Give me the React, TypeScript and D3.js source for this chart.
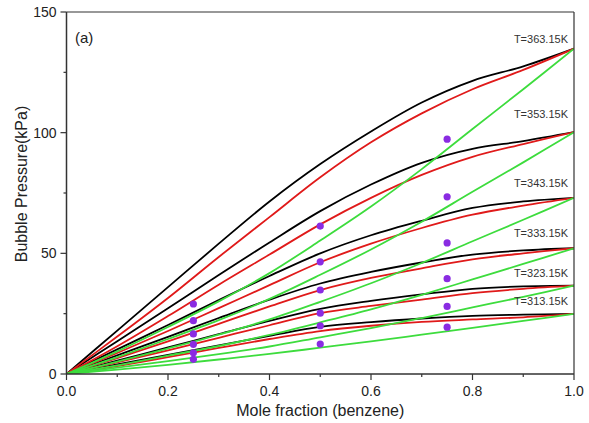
import React from "react";
import * as d3 from "d3";

const temps = ["363.15", "353.15", "343.15", "333.15", "323.15", "313.15"];
const psat = [134.8, 100.2, 73.0, 52.1, 36.6, 24.9];
const curveX = [0, 0.1, 0.2, 0.3, 0.4, 0.5, 0.6, 0.7, 0.8, 0.9, 1.0];

const black363 = [0, 18, 36, 54, 71.5, 87, 100.5, 112.5, 121.5, 127.5, 134.8];
const black353 = [0, 13.6, 27.2, 41, 54.5, 67.5, 78.5, 87.5, 93.3, 96.5, 100.2];
const black343 = [0, 10.2, 20.3, 30.6, 40.6, 50, 57.5, 63.5, 68.8, 71.5, 73.0];
const black333 = [0, 7.7, 15.4, 23.2, 30.8, 37.5, 42.3, 46.2, 49.5, 51.2, 52.1];
const black323 = [0, 5.5, 11, 16.5, 22, 27, 30.3, 33, 35.3, 36.3, 36.6];
const black313 = [0, 4, 7.9, 11.9, 15.8, 19.5, 21.5, 23, 24.1, 24.6, 24.9];

const red363 = [0, 15.5, 31.5, 48.5, 65, 81.5, 96, 108, 118, 126, 134.8];
const red353 = [0, 11.5, 24, 37, 49.5, 62, 73, 82.5, 90, 95.3, 100.2];
const red343 = [0, 8.7, 17.8, 27.3, 36.8, 46.3, 54, 60.5, 66, 69.8, 73.0];
const red333 = [0, 6.6, 13.5, 20.8, 28, 34.8, 39.8, 43.8, 47.5, 50, 52.1];
const red323 = [0, 4.8, 9.8, 15, 20.2, 25.2, 28.2, 30.8, 33.5, 35.3, 36.6];
const red313 = [0, 3.3, 7, 10.8, 14.5, 17.8, 20, 21.6, 22.6, 23.5, 24.9];

const green363 = [0, 9.4, 19.5, 30.1, 41.8, 55.3, 69.4, 84.9, 101.5, 118, 134.8];
const green353 = [0, 7.0, 14.5, 22.3, 31.1, 41.1, 51.6, 63.1, 75.5, 87.7, 100.2];
const green343 = [0, 5.1, 10.6, 16.3, 22.6, 29.9, 37.6, 46, 55, 63.9, 73.0];
const green333 = [0, 3.6, 7.6, 11.6, 16.2, 21.4, 26.8, 32.8, 39.2, 45.6, 52.1];
const green323 = [0, 2.6, 5.3, 8.2, 11.4, 15.2, 19, 23.2, 27.6, 32, 36.6];
const green313 = [0, 1.8, 3.8, 6, 8.3, 10.9, 13.5, 16.3, 19.1, 22, 24.9];

const blackSeries = [black363, black353, black343, black333, black323, black313];
const redSeries = [red363, red353, red343, red333, red323, red313];
const greenSeries = [green363, green353, green343, green333, green323, green313];

const expX = [0.25, 0.5, 0.75];
const exp363 = [29.0, 61.3, 97.3];
const exp353 = [22.1, 46.5, 73.4];
const exp343 = [16.6, 34.8, 54.3];
const exp333 = [12.3, 25.2, 39.5];
const exp323 = [8.8, 20.0, 28.0];
const exp313 = [6.1, 12.4, 19.4];
const expSeries = [exp363, exp353, exp343, exp333, exp323, exp313];

const xTicks = [0, 0.2, 0.4, 0.6, 0.8, 1.0];
const xMinor = [0.1, 0.3, 0.5, 0.7, 0.9];
const yTicks = [0, 50, 100, 150];
const yMinor = [25, 75, 125];

const labelOffsets = [6, 14, 11, 11, 9, 9];

export default function App() {
  const W = 589, H = 423;
  const x = d3.scaleLinear().domain([0, 1]).range([66.5, 574]);
  const y = d3.scaleLinear().domain([0, 150]).range([374, 12]);
  const line = d3
    .line<[number, number]>()
    .x((d) => x(d[0]))
    .y((d) => y(d[1]))
    .curve(d3.curveCatmullRom.alpha(0.5));
  const font = "'Liberation Sans', Arial, sans-serif";
  const axisColor = "#333";
  const pts = (s: number[]) => curveX.map((cx, j) => [cx, s[j]] as [number, number]);
  return (
    <div style={{ position: "absolute", left: 0, top: 0 }}>
      <svg width={W} height={H} style={{ display: "block", background: "#fff" }}>
        <defs>
          <clipPath id="plot">
            <rect x={x(0)} y={y(150)} width={x(1) - x(0)} height={y(0) - y(150)} />
          </clipPath>
        </defs>
        <g clipPath="url(#plot)">
          {blackSeries.map((s, i) => (
            <path key={"b" + i} d={line(pts(s))!} fill="none" stroke="#000" strokeWidth={1.8} />
          ))}
          {redSeries.map((s, i) => (
            <path key={"r" + i} d={line(pts(s))!} fill="none" stroke="#e01a1a" strokeWidth={1.8} />
          ))}
          {greenSeries.map((s, i) => (
            <path key={"g" + i} d={line(pts(s))!} fill="none" stroke="#3ddc3d" strokeWidth={1.8} />
          ))}
          {expSeries.map((s, i) =>
            s.map((v, j) => (
              <circle key={"e" + i + "-" + j} cx={x(expX[j])} cy={y(v)} r={3.6} fill="#8a2be2" />
            ))
          )}
        </g>
        <line x1={x(0)} x2={x(1)} y1={y(150)} y2={y(150)} stroke={axisColor} strokeWidth={1.2} />
        <line x1={x(1)} x2={x(1)} y1={y(150)} y2={y(0)} stroke={axisColor} strokeWidth={1.2} />
        <line x1={x(0)} x2={x(1)} y1={y(0)} y2={y(0)} stroke={axisColor} strokeWidth={1.5} />
        <line x1={x(0)} x2={x(0)} y1={y(150)} y2={y(0)} stroke={axisColor} strokeWidth={1.5} />
        {xTicks.map((t) => (
          <g key={"xt" + t}>
            <line x1={x(t)} x2={x(t)} y1={y(0)} y2={y(0) + 6} stroke={axisColor} strokeWidth={1.2} />
            <text x={x(t)} y={y(0) + 22} textAnchor="middle" fontFamily={font} fontSize={14} fill="#222">
              {t.toFixed(1)}
            </text>
          </g>
        ))}
        {xMinor.map((t) => (
          <line key={"xm" + t} x1={x(t)} x2={x(t)} y1={y(0)} y2={y(0) + 3} stroke={axisColor} strokeWidth={1.2} />
        ))}
        {yTicks.map((t) => (
          <g key={"yt" + t}>
            <line x1={x(0) - 6} x2={x(0)} y1={y(t)} y2={y(t)} stroke={axisColor} strokeWidth={1.2} />
            <text x={x(0) - 10} y={y(t) + 5} textAnchor="end" fontFamily={font} fontSize={14} fill="#222">
              {t}
            </text>
          </g>
        ))}
        {yMinor.map((t) => (
          <line key={"ym" + t} x1={x(0) - 3} x2={x(0)} y1={y(t)} y2={y(t)} stroke={axisColor} strokeWidth={1.2} />
        ))}
        <text x={(x(0) + x(1)) / 2} y={416} textAnchor="middle" fontFamily={font} fontSize={16} fill="#222">
          Mole fraction (benzene)
        </text>
        <text
          transform={`translate(27, 184) rotate(-90)`}
          textAnchor="middle"
          fontFamily={font}
          fontSize={16}
          fill="#222"
        >
          Bubble Pressure(kPa)
        </text>
        <text x={75} y={43} fontFamily={font} fontSize={15} fill="#222">
          (a)
        </text>
        {temps.map((t, i) => (
          <text key={"lab" + t} x={568} y={y(psat[i]) - labelOffsets[i]} textAnchor="end" fontFamily={font} fontSize={11} fill="#333">
            {"T=" + t + "K"}
          </text>
        ))}
      </svg>
    </div>
  );
}
